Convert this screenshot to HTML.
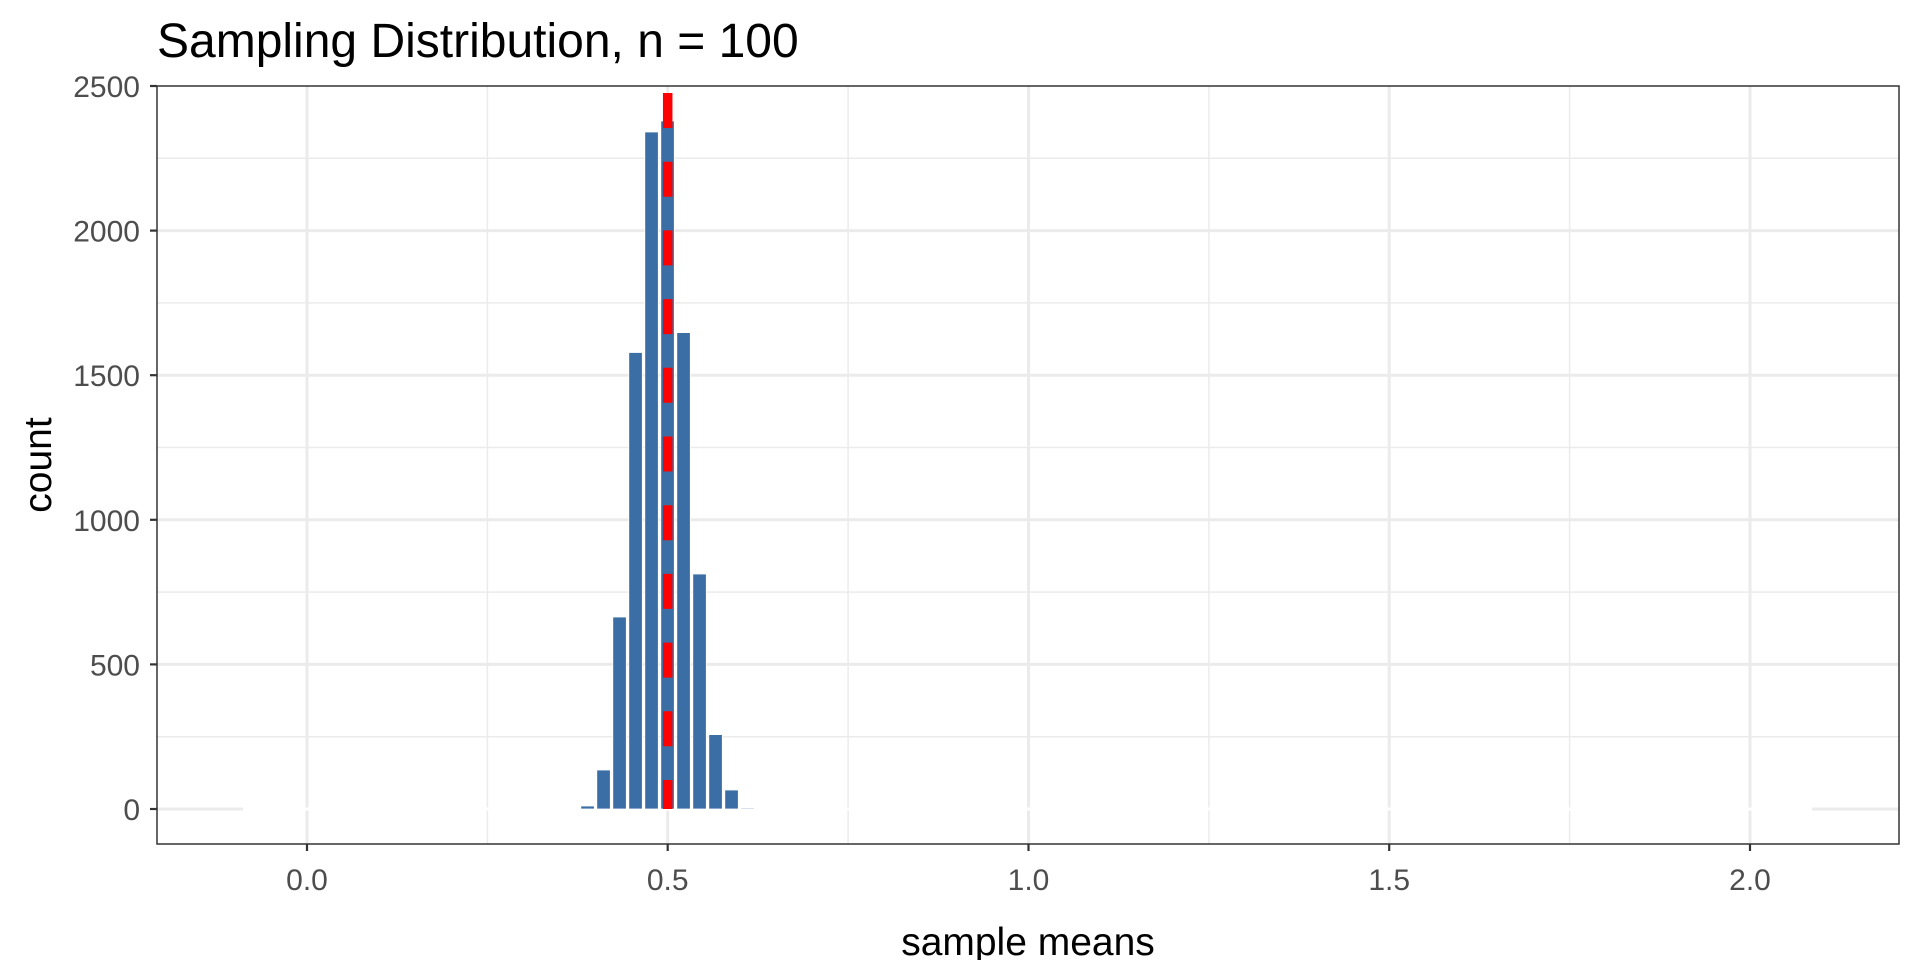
<!DOCTYPE html>
<html><head><style>body{margin:0;background:#fff}svg{display:block}text{font-family:"Liberation Sans",Arial,sans-serif}</style></head>
<body>
<svg width="1920" height="960" viewBox="0 0 1920 960">
<rect width="1920" height="960" fill="#fff"/>
<g stroke="#ebebeb">
<g stroke-width="1.5">
<line x1="157" x2="1899" y1="736.7" y2="736.7"/><line x1="157" x2="1899" y1="592.1" y2="592.1"/><line x1="157" x2="1899" y1="447.5" y2="447.5"/><line x1="157" x2="1899" y1="302.9" y2="302.9"/><line x1="157" x2="1899" y1="158.3" y2="158.3"/>
<line y1="86" y2="844" x1="487.4" x2="487.4"/><line y1="86" y2="844" x1="848.1" x2="848.1"/><line y1="86" y2="844" x1="1208.9" x2="1208.9"/><line y1="86" y2="844" x1="1569.6" x2="1569.6"/>
</g>
<g stroke-width="3">
<line x1="157" x2="1899" y1="809" y2="809"/><line x1="157" x2="1899" y1="664.4" y2="664.4"/><line x1="157" x2="1899" y1="519.8" y2="519.8"/><line x1="157" x2="1899" y1="375.2" y2="375.2"/><line x1="157" x2="1899" y1="230.6" y2="230.6"/>
<line y1="86" y2="844" x1="307" x2="307"/><line y1="86" y2="844" x1="667.7" x2="667.7"/><line y1="86" y2="844" x1="1028.5" x2="1028.5"/><line y1="86" y2="844" x1="1389.2" x2="1389.2"/><line y1="86" y2="844" x1="1750" x2="1750"/>
</g>
</g>
<line x1="243" x2="1812" y1="809" y2="809" stroke="#fff" stroke-width="3"/>
<g fill="#3a6ea5" stroke="#fff" stroke-width="0.8">
<rect x="580.8" y="806" width="13.5" height="3"/>
<rect x="596.8" y="770" width="13.5" height="39"/>
<rect x="612.8" y="617" width="13.5" height="192"/>
<rect x="628.8" y="352.5" width="13.5" height="456.5"/>
<rect x="644.8" y="132" width="13.5" height="677"/>
<rect x="660.8" y="121" width="13.5" height="688"/>
<rect x="676.8" y="332.6" width="13.5" height="476.4"/>
<rect x="692.8" y="574" width="13.5" height="235"/>
<rect x="708.8" y="734.6" width="13.5" height="74.4"/>
<rect x="724.8" y="790" width="13.5" height="19"/>
<rect x="740.8" y="808" width="13.5" height="1"/>
</g>
<line x1="667.7" x2="667.7" y1="93" y2="809" stroke="#ff0000" stroke-width="9.5" stroke-dasharray="35 33.7"/>
<rect x="157" y="86" width="1742" height="758" fill="none" stroke="#333" stroke-width="1.5"/>
<g stroke="#333" stroke-width="2.2">
<line x1="150" x2="157" y1="809" y2="809"/><line x1="150" x2="157" y1="664.4" y2="664.4"/><line x1="150" x2="157" y1="519.8" y2="519.8"/><line x1="150" x2="157" y1="375.2" y2="375.2"/><line x1="150" x2="157" y1="230.6" y2="230.6"/><line x1="150" x2="157" y1="86" y2="86"/>
<line y1="844" y2="851" x1="307" x2="307"/><line y1="844" y2="851" x1="667.7" x2="667.7"/><line y1="844" y2="851" x1="1028.5" x2="1028.5"/><line y1="844" y2="851" x1="1389.2" x2="1389.2"/><line y1="844" y2="851" x1="1750" x2="1750"/>
</g>
<g font-size="30" fill="#4d4d4d" text-anchor="end">
<text x="140" y="820">0</text><text x="140" y="675.4">500</text><text x="140" y="530.8">1000</text><text x="140" y="386.2">1500</text><text x="140" y="241.6">2000</text><text x="140" y="97">2500</text>
</g>
<g font-size="30" fill="#4d4d4d" text-anchor="middle">
<text x="307" y="890">0.0</text><text x="667.7" y="890">0.5</text><text x="1028.5" y="890">1.0</text><text x="1389.2" y="890">1.5</text><text x="1750" y="890">2.0</text>
</g>
<text x="1028" y="955" font-size="39" text-anchor="middle" fill="#000">sample means</text>
<text transform="translate(51,465) rotate(-90)" font-size="39" text-anchor="middle" fill="#000">count</text>
<text x="157" y="57" font-size="48" fill="#000">Sampling Distribution, n = 100</text>
</svg>
</body></html>
